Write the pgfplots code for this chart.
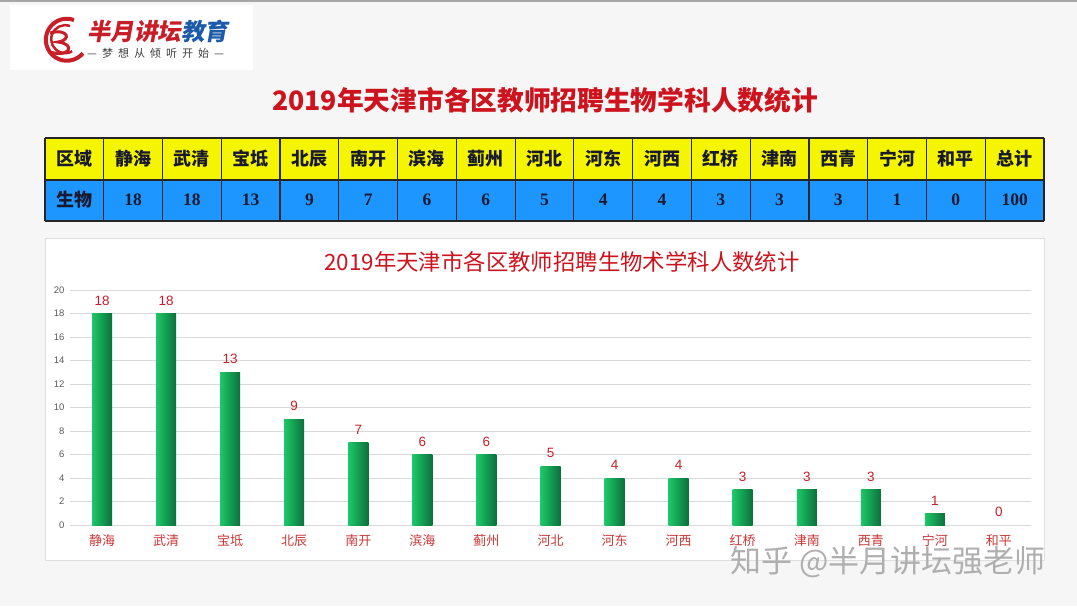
\documentclass[border=0pt]{standalone}
\usepackage{fontspec}
\setmainfont{Liberation Sans}
\newfontfamily\cjk{Noto Sans CJK SC}
\newfontfamily\cjkslant{Noto Sans CJK SC}[FakeSlant=0.18]
\newfontfamily\serifnum{Liberation Serif}
\usepackage{pgfplots}
\pgfplotsset{compat=1.18}
\definecolor{bgc}{RGB}{246,246,246}
\definecolor{logored}{RGB}{200,30,40}
\definecolor{logoblue}{RGB}{30,90,170}
\definecolor{titlered}{RGB}{205,20,30}
\definecolor{yellowcell}{RGB}{245,245,0}
\definecolor{bluecell}{RGB}{30,150,255}
\definecolor{tabtext}{RGB}{25,25,45}
\definecolor{valred}{RGB}{200,30,40}
\definecolor{xlabred}{RGB}{200,55,55}
\definecolor{barlight}{RGB}{28,200,105}
\definecolor{bardark}{RGB}{12,112,58}
\definecolor{ticklab}{RGB}{90,90,90}
\definecolor{wmtext}{RGB}{175,175,175}
\pgfplotsset{onebar/.style={draw=none, left color=barlight, right color=bardark, bar shift=0pt}}
\begin{document}
\begin{tikzpicture}
\useasboundingbox (0pt,0pt) rectangle (1077pt,-606pt);
\fill[bgc] (0pt,0pt) rectangle (1077pt,-606pt);
\draw[gray!70, line width=1.5pt] (0pt,-0.75pt) -- (1077pt,-0.75pt);
% logo
\fill[white] (10pt,-5pt) rectangle (253pt,-70pt);
\draw[logored, line width=4pt] (74pt,-20pt) arc[start angle=70, end angle=320, radius=21pt];
\draw[logored, line width=2.5pt] (70pt,-26pt) arc[start angle=70, end angle=300, radius=14pt];
\draw[logored, line width=3pt] (50pt,-33pt) .. controls (68pt,-28pt) and (72pt,-40pt) .. (58pt,-42pt) .. controls (76pt,-44pt) and (70pt,-58pt) .. (50pt,-52pt);
\node[anchor=west, inner sep=0pt] at (87pt,-31pt) {\cjkslant\bfseries\fontsize{23.5}{23.5}\selectfont\textcolor{logored}{半月讲坛}\textcolor{logoblue}{教育}};
\node[anchor=west, inner sep=0pt, text=black!75] at (87pt,-53pt) {\cjk\fontsize{11}{11}\selectfont —\hspace{5pt}梦\hspace{5pt}想\hspace{5pt}从\hspace{5pt}倾\hspace{5pt}听\hspace{5pt}开\hspace{5pt}始\hspace{5pt}—};
% title
\node[text=titlered] at (545pt,-100pt) {\cjk\bfseries\fontsize{26.7}{26.7}\selectfont 2019年天津市各区教师招聘生物学科人数统计};
% table
\fill[yellowcell] (45pt,-138pt) rectangle (1044pt,-180pt);
\fill[bluecell] (45pt,-180pt) rectangle (1044pt,-221pt);
\foreach \i in {0,...,17} {
  \draw[black!85, line width=1.2pt] ({(45+58.765*\i)*1pt},-138pt) -- ({(45+58.765*\i)*1pt},-221pt);
}
\foreach \yy in {138,180,221} {
  \draw[black!85, line width=1.2pt] (45pt,{-\yy*1pt}) -- (1044pt,{-\yy*1pt});
}
\foreach \n [count=\i from 0] in {区域,静海,武清,宝坻,北辰,南开,滨海,蓟州,河北,河东,河西,红桥,津南,西青,宁河,和平,总计} {
  \node[text=tabtext] at ({(45+58.765*(\i+0.5))*1pt},-159pt) {\cjk\bfseries\fontsize{18}{18}\selectfont \n};
}
\node[text=tabtext] at ({(45+58.765*0.5)*1pt},-200pt) {\cjk\bfseries\fontsize{18}{18}\selectfont 生物};
\foreach \n [count=\i from 1] in {18,18,13,9,7,6,6,5,4,4,3,3,3,1,0,100} {
  \node[text=tabtext] at ({(45+58.765*(\i+0.5))*1pt},-200pt) {\serifnum\bfseries\fontsize{17.5}{17.5}\selectfont \n};
}
% chart panel
\draw[gray!25, fill=white, line width=0.8pt] (45pt,-238pt) rectangle (1044pt,-560pt);
\node[text=titlered] at (562pt,-262pt) {\cjk\fontsize{22.4}{22.4}\selectfont 2019年天津市各区教师招聘生物术学科人数统计};
\begin{axis}[
  at={(70pt,-525pt)}, anchor=south west,
  scale only axis, width=961pt, height=235pt,
  xmin=-0.5, xmax=14.5, ymin=0, ymax=20,
  ytick={0,2,...,20},
  xtick={0,...,14},
  xticklabels={静海,武清,宝坻,北辰,南开,滨海,蓟州,河北,河东,河西,红桥,津南,西青,宁河,和平},
  ymajorgrids, grid style={gray!30, line width=0.8pt},
  axis line style={draw=none},
  major tick length=0pt,
  /pgf/number format/assume math mode=true,
  yticklabel style={font=\fontsize{9.5}{9.5}\selectfont, text=ticklab, xshift=-2pt},
  xticklabel style={font=\cjk\fontsize{13}{13}\selectfont, text=xlabred, yshift=-6pt},
  ybar, bar width=20pt,
  nodes near coords,
  every node near coord/.append style={font=\fontsize{13.5}{13.5}\selectfont, text=valred, inner sep=0pt, yshift=8pt},
]
\addplot[onebar] coordinates {(0,18)};
\addplot[onebar] coordinates {(1,18)};
\addplot[onebar] coordinates {(2,13)};
\addplot[onebar] coordinates {(3,9)};
\addplot[onebar] coordinates {(4,7)};
\addplot[onebar] coordinates {(5,6)};
\addplot[onebar] coordinates {(6,6)};
\addplot[onebar] coordinates {(7,5)};
\addplot[onebar] coordinates {(8,4)};
\addplot[onebar] coordinates {(9,4)};
\addplot[onebar] coordinates {(10,3)};
\addplot[onebar] coordinates {(11,3)};
\addplot[onebar] coordinates {(12,3)};
\addplot[onebar] coordinates {(13,1)};
\addplot[onebar] coordinates {(14,0)};
\end{axis}
% watermark
\node[text=wmtext] at (888pt,-562pt) {\cjk\fontsize{31}{31}\selectfont 知乎 @半月讲坛强老师};
\end{tikzpicture}
\end{document}
